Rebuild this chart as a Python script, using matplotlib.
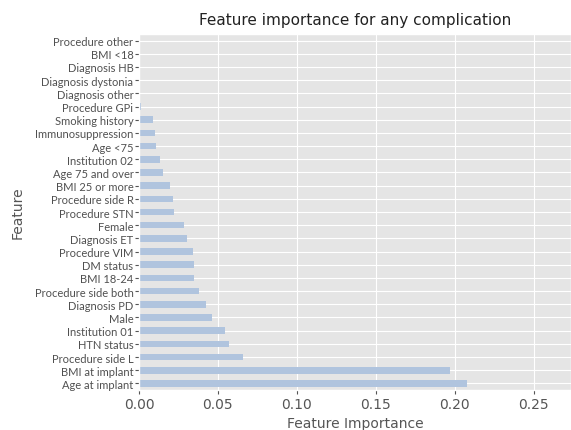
import matplotlib
matplotlib.use("Agg")
import matplotlib.pyplot as plt
from matplotlib.font_manager import FontProperties

plt.style.use("ggplot")
plt.rcParams["font.family"] = ["DejaVu Sans"]

features = [
    "Age at implant", "BMI at implant", "Procedure side L", "HTN status",
    "Institution 01", "Male", "Diagnosis PD", "Procedure side both",
    "BMI 18-24", "DM status", "Procedure VIM", "Diagnosis ET", "Female",
    "Procedure STN", "Procedure side R", "BMI 25 or more", "Age 75 and over",
    "Institution 02", "Age <75", "Immunosuppression", "Smoking history",
    "Procedure GPi", "Diagnosis other", "Diagnosis dystonia", "Diagnosis HB",
    "BMI <18", "Procedure other",
]
importance = [
    0.2076, 0.1973, 0.0658, 0.0569, 0.0542, 0.0464, 0.0425, 0.0379,
    0.0347, 0.0349, 0.0340, 0.0307, 0.0288, 0.0224, 0.0218, 0.0199,
    0.0154, 0.0135, 0.0108, 0.0102, 0.0089, 0.0013, 0.0003, 0.0,
    0.0, 0.0, 0.0,
]
x_ticks = [0.00, 0.05, 0.10, 0.15, 0.20, 0.25]

fig = plt.figure(figsize=(5.71, 4.31), dpi=100)
ax = fig.add_axes([139 / 571, 1 - 391 / 431, 1 - 139 / 571, (391 - 35) / 431])

pos = list(range(len(features)))
ax.barh(pos, importance, height=0.5, color="#b0c4de")
ax.set_ylim(-0.5, len(features) - 0.5)
ax.set_xlim(0, 0.2737)
ax.set_yticks(pos)
ax.set_yticklabels(features)
label_font = FontProperties(family="Lato", size=8)
for lbl in ax.get_yticklabels():
    lbl.set_fontproperties(label_font)
    lbl.set_color("#505050")
ax.set_xticks(x_ticks)
ax.set_xticklabels([f"{t:.2f}" for t in x_ticks])
tick_font = FontProperties(family="DejaVu Sans", size=10)
for lbl in ax.get_xticklabels():
    lbl.set_fontproperties(tick_font)
    lbl.set_color("#555555")
ax.tick_params(axis="y", length=3, pad=1, color="#555555")
ax.tick_params(axis="x", length=3, pad=2, color="#555555")

ax.set_xlabel("Feature Importance", fontsize=10, color="#555555", labelpad=3.5,
              fontfamily="DejaVu Sans")
ax.set_ylabel("Feature", fontsize=10, color="#555555", labelpad=7,
              fontfamily="DejaVu Sans")
ax.set_title("Feature importance for any complication", fontsize=11,
             color="#222222", fontfamily="DejaVu Sans", pad=7)

fig.savefig("out.png", dpi=100)
